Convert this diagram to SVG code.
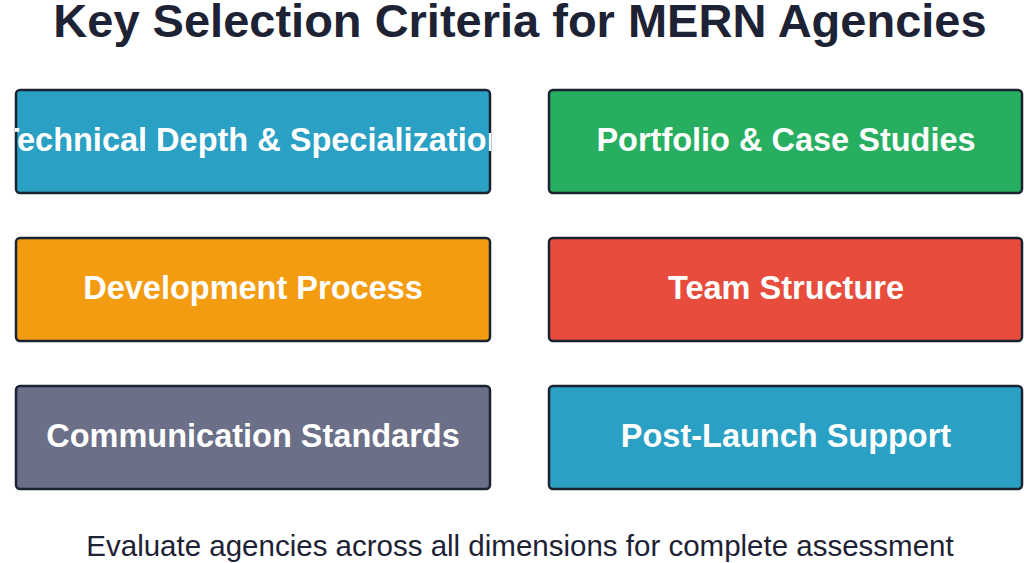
<svg xmlns="http://www.w3.org/2000/svg" width="1024" height="563" viewBox="0 0 1024 563">
<style>
.box{stroke:#1a2332;stroke-width:2.5}
.lbl{font-family:"Liberation Sans",Arial,sans-serif;font-weight:bold;font-size:32.5px;fill:#fff;text-anchor:middle;dominant-baseline:central}
.title{font-family:"Liberation Sans",Arial,sans-serif;font-weight:bold;font-size:47px;fill:#1e2235;text-anchor:middle}
.foot{font-family:"Liberation Sans",Arial,sans-serif;font-size:29.5px;fill:#1e2235;text-anchor:middle}
</style>
<defs><clipPath id="c1"><rect x="15" y="89" width="476" height="105" rx="4"/></clipPath></defs>
<rect width="1024" height="563" fill="#fff"/>
<text class="title" x="520" y="37">Key Selection Criteria for MERN Agencies</text>
<g id="connectors"/>
<g id="n1"><rect class="box" x="16" y="90" width="474" height="103" rx="4" fill="#2aa0c4"/><text class="lbl" x="253" y="140" clip-path="url(#c1)">Technical Depth &amp; Specialization</text></g>
<g id="n2"><rect class="box" x="549" y="90" width="473" height="103" rx="4" fill="#27ae60"/><text class="lbl" x="786" y="140">Portfolio &amp; Case Studies</text></g>
<g id="n3"><rect class="box" x="16" y="238" width="474" height="103" rx="4" fill="#f39c12"/><text class="lbl" x="253" y="288">Development Process</text></g>
<g id="n4"><rect class="box" x="549" y="238" width="473" height="103" rx="4" fill="#e74c3c"/><text class="lbl" x="786" y="288">Team Structure</text></g>
<g id="n5"><rect class="box" x="16" y="386" width="474" height="103" rx="4" fill="#6b6f88"/><text class="lbl" x="253" y="436">Communication Standards</text></g>
<g id="n6"><rect class="box" x="549" y="386" width="473" height="103" rx="4" fill="#2aa0c4"/><text class="lbl" x="786" y="436">Post-Launch Support</text></g>
<text class="foot" x="520" y="556">Evaluate agencies across all dimensions for complete assessment</text>
</svg>
